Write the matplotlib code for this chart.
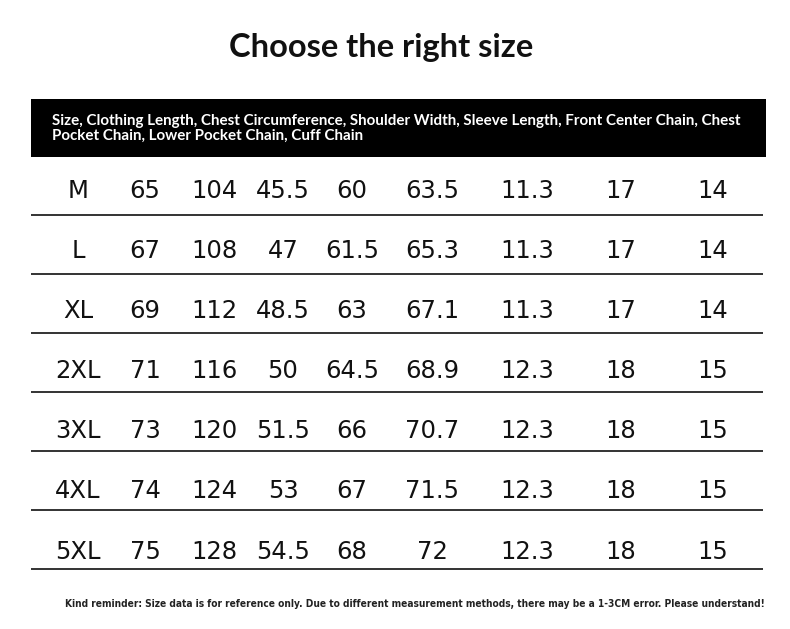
import matplotlib
matplotlib.use("Agg")
import matplotlib.pyplot as plt
from matplotlib.patches import Rectangle

title = "Choose the right size"
header_lines = ["Size, Clothing Length, Chest Circumference, Shoulder Width, Sleeve Length, Front Center Chain, Chest",
                "Pocket Chain, Lower Pocket Chain, Cuff Chain"]
footer = ("Kind reminder: Size data is for reference only. Due to different measurement methods, "
          "there may be a 1-3CM error. Please understand!")

sizes = ["M", "L", "XL", "2XL", "3XL", "4XL", "5XL"]
clothing_length = ["65", "67", "69", "71", "73", "74", "75"]
chest = ["104", "108", "112", "116", "120", "124", "128"]
shoulder = ["45.5", "47", "48.5", "50", "51.5", "53", "54.5"]
sleeve = ["60", "61.5", "63", "64.5", "66", "67", "68"]
front_chain = ["63.5", "65.3", "67.1", "68.9", "70.7", "71.5", "72"]
chest_pocket = ["11.3", "11.3", "11.3", "12.3", "12.3", "12.3", "12.3"]
lower_pocket = ["17", "17", "17", "18", "18", "18", "18"]
cuff = ["14", "14", "14", "15", "15", "15", "15"]

columns = [sizes, clothing_length, chest, shoulder, sleeve, front_chain,
           chest_pocket, lower_pocket, cuff]
col_x = [78, 145, 214, 283, 352, 432, 527, 621, 713]

W, H = 790, 629
fig = plt.figure(figsize=(W / 100, H / 100), dpi=100)
ax = fig.add_axes([0, 0, 1, 1])
ax.set_xlim(0, W)
ax.set_ylim(H, 0)
ax.axis("off")

lato = ["Lato", "DejaVu Sans"]
cond = ["DejaVu Sans", "Liberation Sans"]

t_title = ax.text(381, 57, title, ha="center", va="baseline", fontsize=23,
                  fontweight="bold", family=lato, color="#111111")

ax.add_patch(Rectangle((31, 99), 735, 58, facecolor="black", edgecolor="none"))
t_h1 = ax.text(52, 125, header_lines[0], ha="left", va="baseline", fontsize=9.5,
               fontweight="bold", family=lato, color="white")
t_h2 = ax.text(52, 139.5, header_lines[1], ha="left", va="baseline", fontsize=9.5,
               fontweight="bold", family=lato, color="white")

for i in range(len(sizes)):
    y = 198 + i * 60.1
    for cx, col in zip(col_x, columns):
        ax.text(cx, y, col[i], ha="center", va="baseline", fontsize=17.5,
                family=["DejaVu Sans"], color="#111111")
    ly = 215 + i * 59
    ax.plot([31, 763], [ly, ly], color="#111111", lw=1.2, solid_capstyle="butt")

t_foot = ax.text(414.5, 607, footer, ha="center", va="baseline", fontsize=8,
                 fontweight="bold", fontstretch="condensed", family=cond, color="#222222")

# fit text widths to the reference layout
fig.canvas.draw()
r = fig.canvas.get_renderer()
def fit(t, target):
    w = t.get_window_extent(r).width
    t.set_fontsize(t.get_fontsize() * target / w)
    return t.get_fontsize()
fit(t_title, 305)
fs = fit(t_h1, 691)
t_h2.set_fontsize(fs)
fit(t_foot, 705)

fig.savefig("out.png", dpi=100)
